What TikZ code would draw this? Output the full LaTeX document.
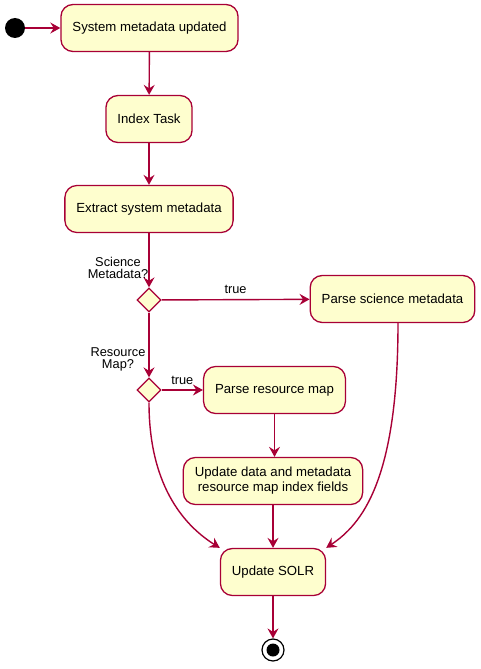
\documentclass[tikz,border=0pt]{standalone}
\usepackage{fontspec}
\setmainfont{Liberation Sans}
\usetikzlibrary{arrows.meta}
\usetikzlibrary{shapes.geometric}
\definecolor{umlred}{HTML}{A80036}
\definecolor{umlfill}{HTML}{FEFECE}

\begin{document}
\begin{tikzpicture}[x=1pt, y=-1pt,
		activity/.style={draw=umlred, fill=umlfill, line width=1.3pt, rounded corners=12pt, minimum height=47pt, inner xsep=11.5pt, align=center, font=\fontsize{13.2}{15}\selectfont},
		choice/.style={draw=umlred, fill=umlfill, line width=1.3pt, diamond, minimum width=24pt, minimum height=24pt, inner sep=0pt},
		flow/.style={draw=umlred, line width=1.4pt, -{Stealth[length=10pt, width=11pt, inset=3.5pt]}},
		guard/.style={font=\fontsize{12.8}{12.5}\selectfont, align=center, inner sep=1pt}]
				\useasboundingbox (0,0) rectangle (481,669);
		
				\node[circle, fill=black, minimum size=20pt, inner sep=0pt] (start) at (15,28) {};
				\node[activity] (sysmeta) at (149.5,28) {System metadata updated};
				\node[activity] (indextask) at (149,119) {Index Task};
				\node[activity] (extract) at (149,209) {Extract system metadata};
				\node[choice] (isscience) at (149,300) {};
				\node[activity] (parsesci) at (392.5,299) {Parse science metadata};
				\node[choice] (isresmap) at (149,390) {};
				\node[activity] (parseresmap) at (274.5,390) {Parse resource map};
				\node[activity] (updatefields) at (273,481) {Update data and metadata\\resource map index fields};
				\node[activity] (solr) at (273,572) {Update SOLR};
				\node[circle, draw=black, line width=1.2pt, fill=white, minimum size=22pt, inner sep=0pt] (stop) at (273,650) {};
				\fill[black] (stop.center) circle (6.5);
		
				\node[guard] (sciencelabel) at (118,268) {Science\\Metadata?};
				\node[guard] (resmaplabel) at (118,359.5) {Resource\\Map?};
		
				\draw[flow] (start) -- (sysmeta);
				\draw[flow] (sysmeta) -- (indextask);
				\draw[flow] (indextask) -- (extract);
				\draw[flow] (extract) -- (isscience);
				\draw[flow] (isscience) -- (parsesci) node[guard, midway, above=4pt] {true};
				\draw[flow] (isscience) -- (isresmap);
				\draw[flow] (isresmap) -- (parseresmap) node[guard, midway, above=4pt] {true};
				\draw[flow] (parseresmap.south) -- (parseresmap.south |- updatefields.north);
				\draw[flow] (updatefields) -- (solr);
				\draw[flow] (isresmap.south) .. controls (149,490) and (188,528) .. (solr.north west);
				\draw[flow] ([xshift=5.5pt]parsesci.south) .. controls (398,480) and (362,524) .. (solr.north east);
				\draw[flow] (solr) -- (stop);
			\end{tikzpicture}
\end{document}
